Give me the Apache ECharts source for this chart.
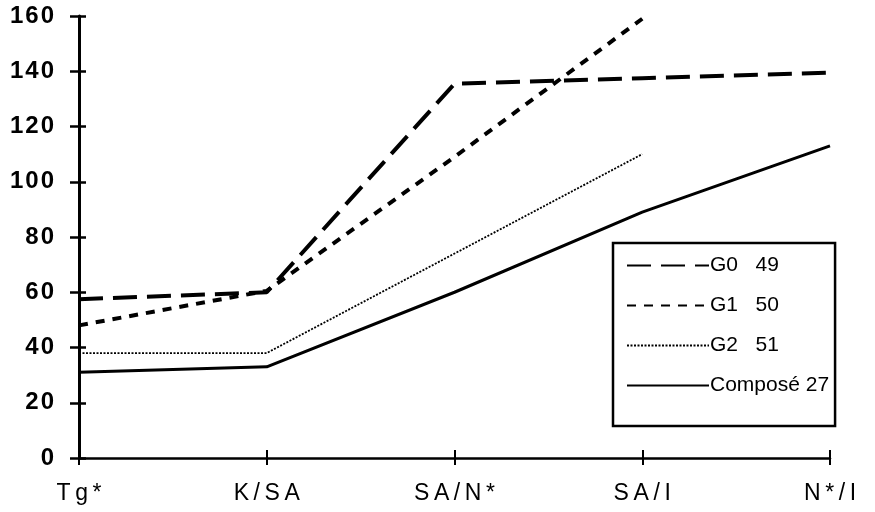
<!DOCTYPE html>
<html>
<head>
<meta charset="utf-8">
<script src="https://cdn.jsdelivr.net/npm/echarts@6/dist/echarts.min.js"></script>
<style>
html,body{margin:0;padding:0;background:#fff;}
#chart{width:875px;height:512px;}
</style>
</head>
<body>
<div id="chart"></div>
<script>
// Categories along the x axis
const categories = ['Tg*', 'K/SA', 'SA/N*', 'SA/I', 'N*/I'];
// Series values (null where the curve stops)
const g0 = [57.5, 60, 135.5, 137.5, 139.5];
const g1 = [48, 60.5, 109, 159, null];
const g2 = [38, 38, 74, 110, null];
const compose = [31, 33, 60, 89, 113];
// Y axis range and step
const yMin = 0, yMax = 160, yStep = 20;

const font = '"Liberation Sans", Arial, sans-serif';
const chart = echarts.init(document.getElementById('chart'));

// spread the caption letters a little, as in typewriter-style axis captions
const spaced = s => String(s).split('').join('\u2009');
const spacedNum = v => String(v).split('').join('\u200A');

function lineSeries(name, data, width, dash) {
  return {
    name: name,
    type: 'line',
    data: data,
    symbol: 'none',
    connectNulls: false,
    lineStyle: { color: '#000', width: width, type: dash },
    itemStyle: { color: '#000' },
    z: 3
  };
}

const baseX = {
  type: 'category',
  data: categories,
  boundaryGap: false,
  splitLine: { show: false }
};
const baseY = {
  type: 'value',
  min: yMin, max: yMax, interval: yStep,
  splitLine: { show: false }
};

chart.setOption({
  animation: false,
  backgroundColor: '#fff',
  grid: { left: 79, right: 45, top: 16, bottom: 54 },
  xAxis: [Object.assign({}, baseX, {
    axisLine: { lineStyle: { color: '#000', width: 2.5 } },
    axisTick: { show: true, length: 7, alignWithLabel: true, lineStyle: { color: '#000', width: 2 } },
    axisLabel: { color: '#000', fontFamily: font, fontSize: 23, margin: 24, formatter: spaced }
  }), Object.assign({}, baseX, {
    position: 'bottom',
    axisLine: { show: false },
    axisTick: { show: true, inside: true, length: 8, lineStyle: { color: '#000', width: 2 } },
    axisLabel: { show: false }
  })],
  yAxis: [Object.assign({}, baseY, {
    axisLine: { show: true, lineStyle: { color: '#000', width: 3 } },
    axisTick: { show: true, length: 9, lineStyle: { color: '#000', width: 2.5 } },
    axisLabel: { color: '#000', fontFamily: font, fontSize: 24, fontWeight: 'bold', margin: 25, formatter: spacedNum }
  }), Object.assign({}, baseY, {
    position: 'left',
    axisLine: { show: false },
    axisTick: { show: true, inside: true, length: 7, lineStyle: { color: '#000', width: 2.5 } },
    axisLabel: { show: false }
  })],
  legend: {
    orient: 'vertical',
    left: 613, top: 243,
    padding: [12, 6, 30, 13],
    itemGap: 19,
    itemWidth: 82, itemHeight: 20,
    backgroundColor: '#fff',
    borderColor: '#000', borderWidth: 2.5,
    itemStyle: { opacity: 0 },
    textStyle: { color: '#000', fontFamily: font, fontSize: 21, padding: [0, 0, 0, -4] },
    data: ['G0   49', 'G1   50', 'G2   51', 'Composé 27']
  },
  series: [
    lineSeries('G0   49', g0, 4, [24, 10]),
    lineSeries('G1   50', g1, 4, [9, 8]),
    lineSeries('G2   51', g2, 1.8, [2, 1.5]),
    lineSeries('Composé 27', compose, 3, 'solid')
  ]
});
</script>
</body>
</html>
